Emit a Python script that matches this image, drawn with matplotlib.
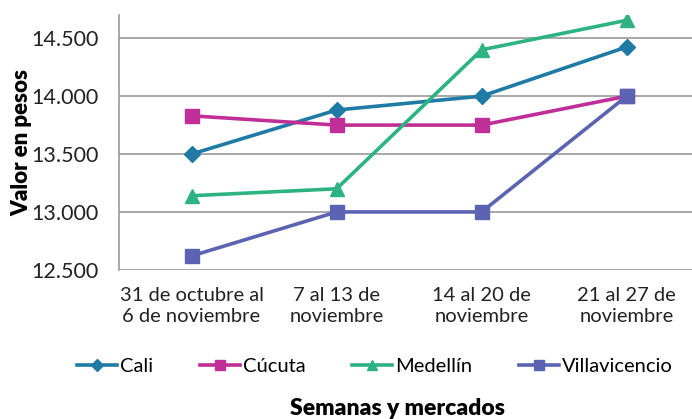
import matplotlib
matplotlib.use("Agg")
import matplotlib.pyplot as plt
from matplotlib.ticker import FuncFormatter

categories = ["31 de octubre al\n6 de noviembre", "7 al 13 de\nnoviembre",
              "14 al 20 de\nnoviembre", "21 al 27 de\nnoviembre"]
cali = [13500, 13880, 14000, 14425]
cucuta = [13830, 13750, 13750, 14000]
medellin = [13140, 13200, 14400, 14655]
villavicencio = [12620, 13000, 13000, 14000]
yticks = [12500, 13000, 13500, 14000, 14500]

plt.rcParams['font.family'] = ['Lato', 'DejaVu Sans']

fig = plt.figure(figsize=(6.92, 4.19), dpi=100)
ax = fig.add_axes([0.172, 0.356, 0.828, 0.608])

x = list(range(len(categories)))
series = [
    ("Cali", cali, "#1F7BA6", "D", 8),
    ("Cúcuta", cucuta, "#C02E98", "s", 9.5),
    ("Medellín", medellin, "#2DB382", "^", 10),
    ("Villavicencio", villavicencio, "#5C63B2", "s", 9.5),
]
for name, vals, col, mk, ms in series:
    ax.plot(x, vals, color=col, lw=2.6, marker=mk, ms=ms, label=name,
            markeredgecolor=col)

ax.set_xlim(-0.5, 3.45)
ax.set_ylim(12500, 14700)
ax.set_yticks(yticks)
ax.yaxis.set_major_formatter(FuncFormatter(lambda v, p: f"{int(v):,}".replace(",", ".")))
ax.set_xticks(x)
ax.set_xticklabels(categories, fontsize=14.5, color="#222222", linespacing=1.35)
ax.tick_params(axis='y', labelsize=15.5, colors="#222222", length=0, pad=15)
ax.tick_params(axis='x', length=0, pad=12)
ax.grid(axis='y', color="#999999", lw=1.2)
ax.set_axisbelow(True)
for s in ["top", "right", "bottom"]:
    ax.spines[s].set_visible(False)
ax.spines["left"].set_color("#999999")
ax.spines["left"].set_linewidth(1.2)

ax.set_ylabel("Valor en pesos", fontsize=16, fontweight="heavy")
ax.yaxis.set_label_coords(-0.152, 0.5)

fig.legend(loc="center", bbox_to_anchor=(0.542, 0.126), ncol=4, frameon=False,
           fontsize=14.5, handlelength=2.0, columnspacing=2.3, handletextpad=0.15,
           markerscale=0.75)
fig.text(0.574, 0.026, "Semanas y mercados", ha="center", va="center",
         fontsize=16.5, fontweight="heavy")

fig.savefig("out.png", dpi=100)
